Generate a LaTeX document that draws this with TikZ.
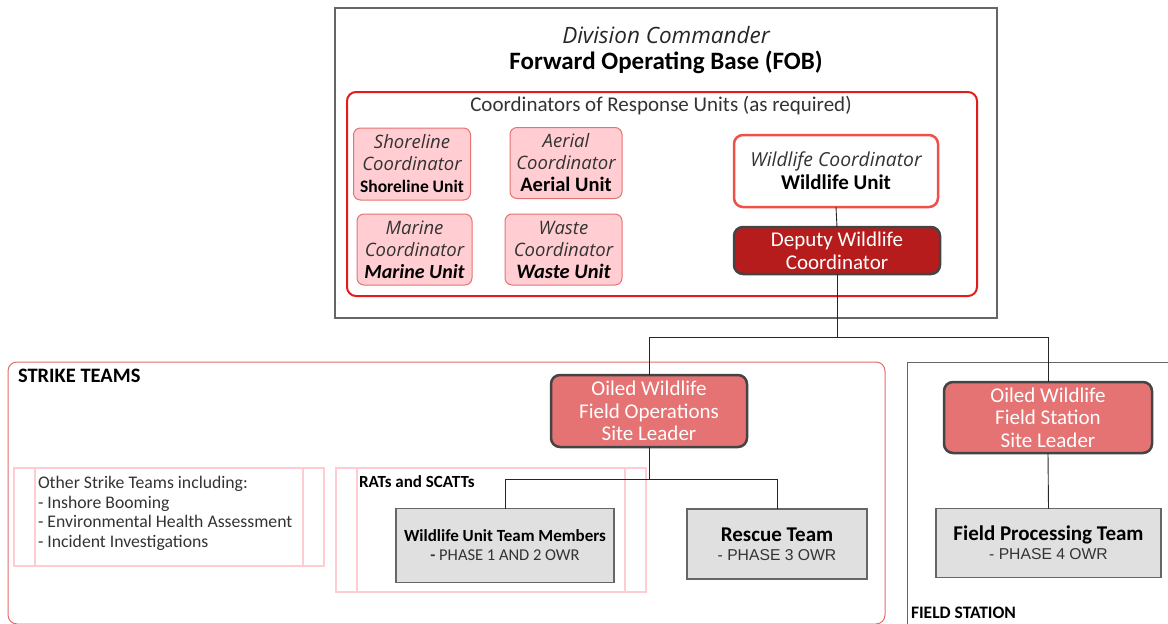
\documentclass[tikz,border=0pt]{standalone}
\usepackage{fontspec}
\setmainfont{Carlito}
\newfontfamily\osfont{Open Sans}
\newfontfamily\arfont{Liberation Sans}
\definecolor{fobgray}{HTML}{666666}
\definecolor{cored}{HTML}{E31B1B}
\definecolor{pinkfill}{HTML}{FFCDD2}
\definecolor{pinkline}{HTML}{E57373}
\definecolor{wcred}{HTML}{F0504A}
\definecolor{deepred}{HTML}{B71C1C}
\definecolor{salmon}{HTML}{E57373}
\definecolor{darkline}{HTML}{444444}
\definecolor{boxgray}{HTML}{E0E0E0}
\definecolor{boxline}{HTML}{666666}
\definecolor{tablepink}{HTML}{FFCCD2}
\definecolor{strikered}{HTML}{E36B6B}
\definecolor{txtgray}{HTML}{333333}
\begin{document}
\begin{tikzpicture}[x=1pt,y=-1pt,
  every node/.style={inner sep=0pt, outer sep=0pt},
  coordbox/.style={draw=pinkline, fill=pinkfill, line width=1pt, rounded corners=7pt, align=center, text=txtgray, font={\osfont\itshape\fontsize{18.5}{22}\selectfont}},
  leader/.style={draw=darkline, fill=salmon, line width=2.5pt, rounded corners=9pt, align=center, text=white, font={\fontsize{21}{22.5}\selectfont}},
  teambox/.style={draw=boxline, fill=boxgray, line width=1.6pt, align=center, font={\fontsize{16}{19}\selectfont}},
  link/.style={draw=black!85, line width=0.9pt},
  tableline/.style={draw=tablepink, line width=1.5pt}
]
\useasboundingbox (0,0) rectangle (1168,624);
\clip (0,0) rectangle (1168,624);

% FOB frame
\node[draw=fobgray, line width=2pt, minimum width=662pt, minimum height=310pt] (fob) at (666,163) {};
\node[font={\osfont\itshape\fontsize{22.5}{24}\selectfont}, text=black!85] (divcmd) at (666,35) {Division Commander};
\node[font={\bfseries\fontsize{25}{26}\selectfont}] (fobtitle) at (666,62) {Forward Operating Base (FOB)};
\node[draw=cored, line width=2pt, rounded corners=9pt, minimum width=630pt, minimum height=204pt] (coordframe) at (662,194) {};
\node[font={\fontsize{21}{23}\selectfont}, text=txtgray] (coordlabel) at (661,106) {Coordinators of Response Units (as required)};

% coordinator boxes
\node[coordbox, minimum width=117pt, minimum height=72pt] (shore) at (412,164)
  {Shoreline\\Coordinator\\{\normalfont\bfseries\fontsize{17.5}{22}\selectfont\color{black} Shoreline Unit}};
\node[coordbox, minimum width=112pt, minimum height=71pt] (aerial) at (566,163)
  {Aerial\\Coordinator\\{\normalfont\bfseries\fontsize{20.5}{22}\selectfont\color{black} Aerial Unit}};
\node[coordbox, minimum width=115pt, minimum height=71pt] (marine) at (414.5,249.5)
  {Marine\\Coordinator\\{\normalfont\bfseries\itshape\fontsize{20}{22}\selectfont\color{black} Marine Unit}};
\node[coordbox, minimum width=117pt, minimum height=71pt] (waste) at (563.5,249.5)
  {Waste\\Coordinator\\{\normalfont\bfseries\itshape\fontsize{20.5}{22}\selectfont\color{black} Waste Unit}};

\node[draw=wcred, fill=white, line width=2.5pt, rounded corners=9pt, minimum width=204pt, minimum height=72pt, align=center, font={\fontsize{19.3}{23}\selectfont}] (wc) at (836,171)
  {{\osfont\itshape\color{txtgray} Wildlife Coordinator}\\{\bfseries\fontsize{21}{23}\selectfont Wildlife Unit}};
\node[draw=darkline, fill=deepred, line width=2.5pt, rounded corners=9pt, minimum width=206pt, minimum height=47pt, align=center, text=white, font={\fontsize{21}{23}\selectfont}] (dep) at (837,250.5)
  {Deputy Wildlife\\Coordinator};

% strike teams frame
\node[draw=strikered, line width=1pt, rounded corners=9pt, minimum width=877pt, minimum height=262pt] (strike) at (446.5,493) {};
\node[anchor=west, font={\bfseries\fontsize{20.5}{22}\selectfont}] (strikelabel) at (18,376) {STRIKE TEAMS};

% field station frame
\coordinate (fsTR) at (1175,362);
\coordinate (fsBL) at (907,630);
\draw[draw=boxline, line width=1pt] (fsTR) -| (fsBL);
\node[anchor=base west, font={\bfseries\fontsize{17.5}{20}\selectfont}] (fslabel) at (911,618) {FIELD STATION};

% other strike teams table
\node[tableline, draw, minimum width=310pt, minimum height=98pt] (other) at (169,517) {};
\coordinate (o1t) at (35,468); \coordinate (o1b) at (35,566);
\coordinate (o2t) at (303,468); \coordinate (o2b) at (303,566);
\draw[tableline] (o1t) -- (o1b);
\draw[tableline] (o2t) -- (o2b);
\node[anchor=north west, align=left, text=txtgray, font={\fontsize{17.7}{19.8}\selectfont}] (othertext) at (38,476)
  {Other Strike Teams including:\\- Inshore Booming\\- Environmental Health Assessment\\- Incident Investigations};

% RATs table
\node[tableline, draw, minimum width=310pt, minimum height=124pt] (rats) at (491,530) {};
\coordinate (r1t) at (357,468); \coordinate (r1b) at (357,592);
\coordinate (r2t) at (625,468); \coordinate (r2b) at (625,592);
\draw[tableline] (r1t) -- (r1b);
\draw[tableline] (r2t) -- (r2b);
\node[anchor=west, font={\bfseries\fontsize{17}{19}\selectfont}] (ratslabel) at (359,482) {RATs and SCATTs};

% leaders
\node[leader, minimum width=196pt, minimum height=72pt] (fo) at (649,411) {Oiled Wildlife\\Field Operations\\Site Leader};
\node[leader, minimum width=208pt, minimum height=71pt] (fs) at (1048,417.5) {Oiled Wildlife\\Field Station\\Site Leader};

% team boxes
\node[teambox, minimum width=218pt, minimum height=74pt] (wutm) at (505,545.5)
  {{\bfseries\fontsize{17}{19}\selectfont Wildlife Unit Team Members}\\{\fontsize{16.5}{19}\selectfont\color{txtgray}{\bfseries -} PHASE 1 AND 2 OWR}};
\node[teambox, minimum width=180pt, minimum height=70pt] (rescue) at (777,544)
  {{\bfseries\fontsize{21}{19}\selectfont Rescue Team}\\{\arfont\fontsize{15.7}{19}\selectfont\color{txtgray}- PHASE 3 OWR}};
\node[teambox, minimum width=225pt, minimum height=69pt] (fpt) at (1048.5,543)
  {{\bfseries\fontsize{21}{19}\selectfont Field Processing Team}\\{\arfont\fontsize{15.7}{19}\selectfont\color{txtgray}- PHASE 4 OWR}};

% connectors
\coordinate (j1) at (837,337);
\coordinate (j2) at (649,479);
\draw[link] (wc.south) -- (dep.north);
\draw[link] (dep.south) -- (j1);
\draw[link] (fo.north) |- (j1);
\draw[link] (fs.north) |- (j1);
\draw[link] (fo.south) -- (j2);
\draw[link] (wutm.north) |- (j2);
\draw[link] (rescue.north) |- (j2);
\draw[link] (fs.south) -- (fpt.north);
\end{tikzpicture}
\end{document}
